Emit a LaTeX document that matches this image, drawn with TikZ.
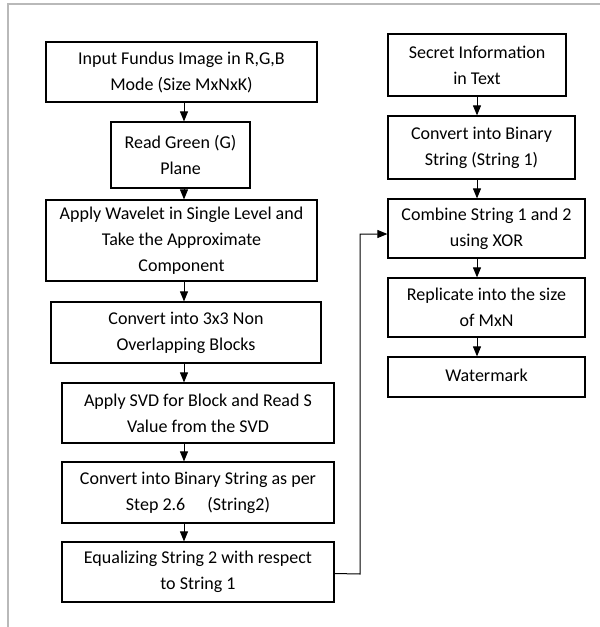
\documentclass[tikz,border=0pt]{standalone}
\usepackage{fontspec}
\setmainfont{Carlito}
\usetikzlibrary{arrows.meta, positioning}
\tikzset{
    box/.style={
        rectangle, draw=black, line width=1.2pt,
        inner sep=0pt, align=center,
        font=\fontsize{18}{26}\selectfont
    },
    arrow/.style={-{Triangle[length=10pt, width=8pt]}, line width=1pt}
}

\begin{document}
\begin{tikzpicture}[x=1pt, y=-1pt]
    \useasboundingbox (0,0) rectangle (600,627);

    % page frame (top and left only)
    \draw[gray!55, line width=1.4pt] (8,627) -- (8,4) -- (600,4);

    % left column
    \node[box, minimum width=271pt, minimum height=60pt] (input) at (181.5,72)
        {Input Fundus Image in R,G,B\\Mode (Size MxNxK)};
    \node[box, minimum width=139pt, minimum height=66pt] (green) at (180.5,155)
        {Read Green (G)\\Plane};
    \node[box, minimum width=271pt, minimum height=81pt] (wavelet) at (181.5,240.5)
        {Apply Wavelet in Single Level and\\Take the Approximate\\Component};
    \node[box, minimum width=270pt, minimum height=61pt] (blocks) at (186,332.5)
        {Convert into 3x3 Non\\Overlapping Blocks};
    \node[box, minimum width=272pt, minimum height=60pt] (svd) at (198,413)
        {Apply SVD for Block and Read S\\Value from the SVD};
    \node[box, minimum width=272pt, minimum height=61pt] (bin2) at (198,492.5)
        {Convert into Binary String as per\\Step 2.6\quad\ (String2)};
    \node[box, minimum width=272pt, minimum height=60pt] (equal) at (198,572)
        {Equalizing String 2 with respect\\to String 1};

    % right column
    \node[box, minimum width=178pt, minimum height=62pt] (secret) at (477,65)
        {Secret Information\\in Text};
    \node[box, minimum width=187pt, minimum height=63pt] (bin1) at (481.5,147.5)
        {Convert into Binary\\String (String 1)};
    \node[box, minimum width=197pt, minimum height=59pt] (xor) at (486.5,228.5)
        {Combine String 1 and 2\\using XOR};
    \node[box, minimum width=197pt, minimum height=59pt] (repl) at (486.5,307.5)
        {Replicate into the size\\of MxN};
    \node[box, minimum width=197pt, minimum height=40pt] (wmark) at (486.5,377)
        {\raisebox{4pt}{Watermark}};

    % arrow columns
    \coordinate (colL) at (184,0);
    \coordinate (colR) at (477,0);

    \foreach \a/\b in {input/green, green/wavelet, wavelet/blocks, blocks/svd, svd/bin2, bin2/equal} {
        \draw[arrow] (\a.south -| colL) -- (\b.north -| colL);
    }
    \foreach \a/\b in {secret/bin1, bin1/xor, xor/repl, repl/wmark} {
        \draw[arrow] (\a.south -| colR) -- (\b.north -| colR);
    }

    % String 2 goes over to the XOR step
    \coordinate (turn) at (360,574);
    \draw[arrow] ([yshift=-1.5pt]equal.east) -- (turn) |- ([yshift=-5.5pt]xor.west);
\end{tikzpicture}
\end{document}
